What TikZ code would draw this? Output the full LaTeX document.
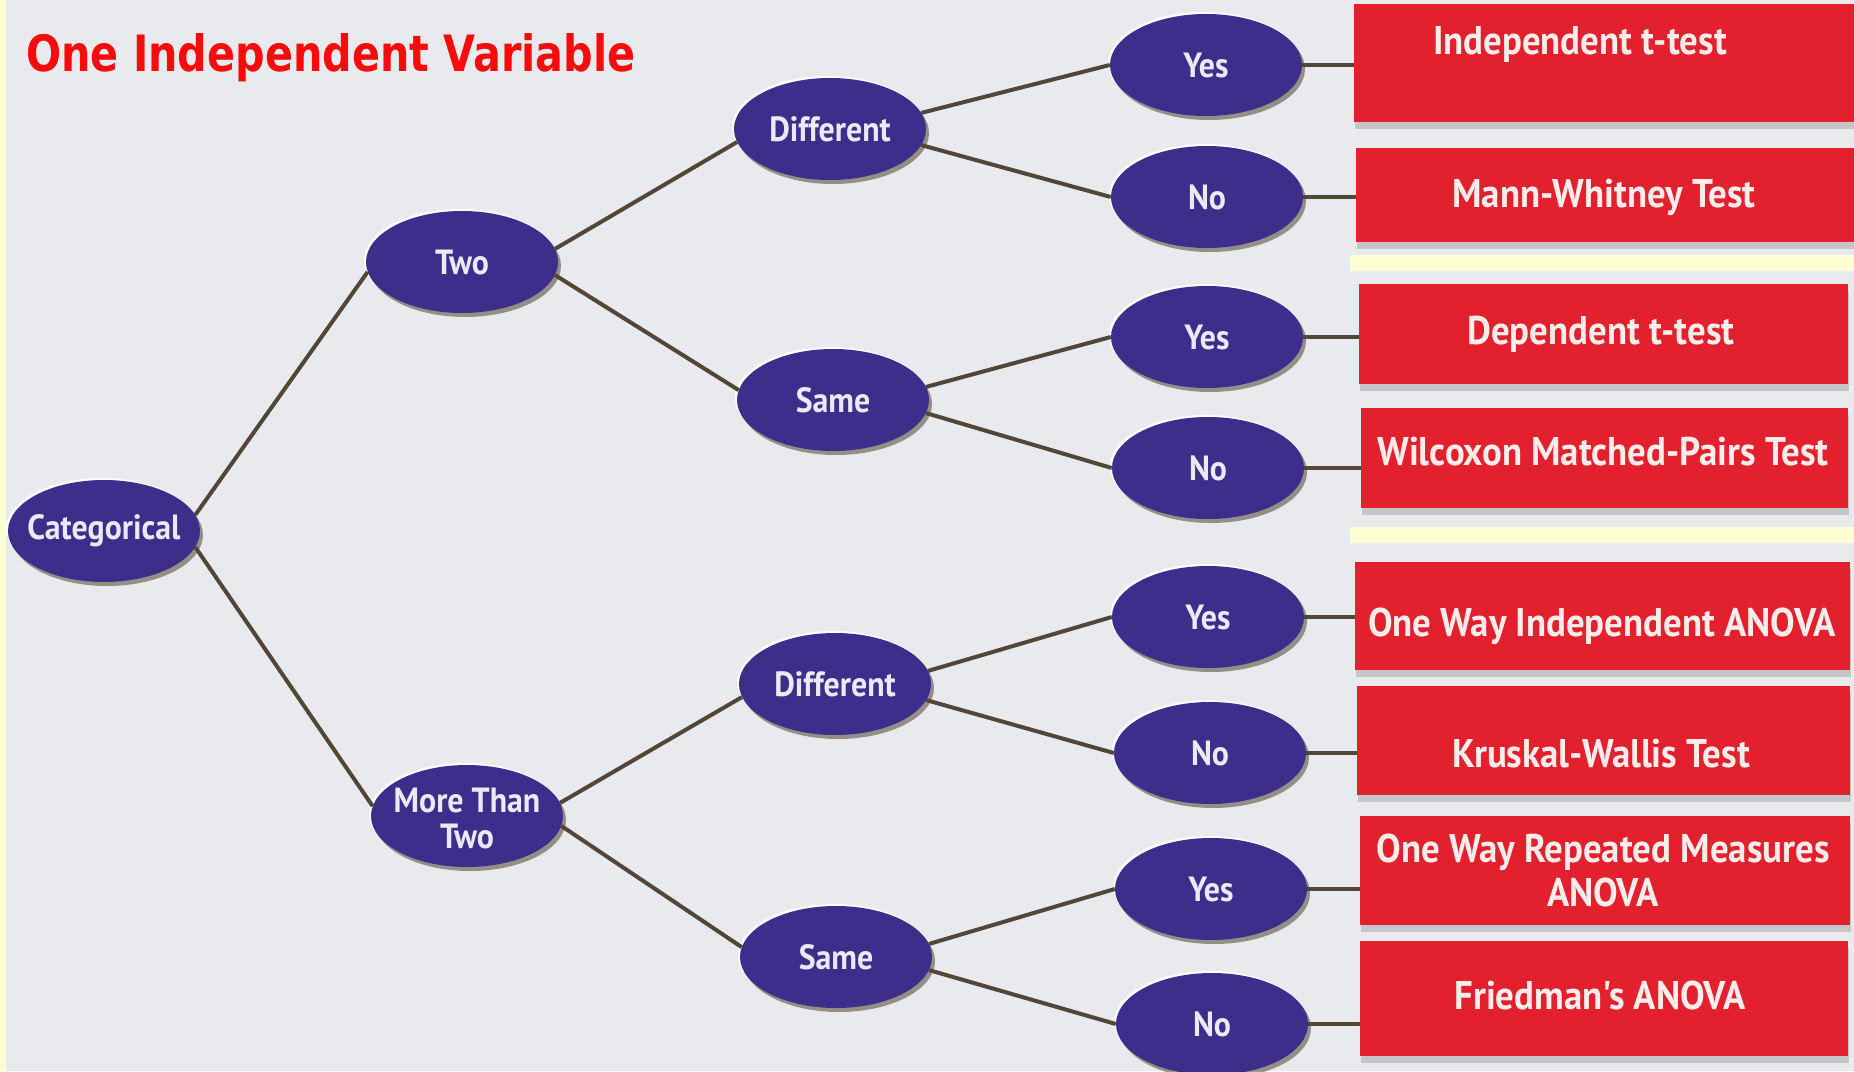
\documentclass[tikz,border=0pt]{standalone}
\usepackage{fontspec}
\usepackage{graphicx}
\usetikzlibrary{shapes.geometric,shadows}
\newfontfamily\nodefont[FakeStretch=0.91]{PT Sans}
\newfontfamily\boxfont[FakeStretch=0.92]{PT Sans}
\newfontfamily\titlefont{DejaVu Sans}
\newcommand{\ctext}[1]{\makebox[0pt][c]{#1}}
\definecolor{bg}{RGB}{232,234,238}
\definecolor{ellfill}{RGB}{62,46,140}
\definecolor{elltext}{RGB}{236,232,244}
\definecolor{boxred}{RGB}{226,32,46}
\definecolor{boxtext}{RGB}{252,236,234}
\definecolor{linec}{RGB}{82,70,56}
\definecolor{paleyellow}{RGB}{255,255,214}
\definecolor{titlered}{RGB}{250,10,10}
\definecolor{shadowc}{RGB}{80,70,50}
\tikzset{
  ell/.style={ellipse, fill=ellfill, text=elltext, minimum width=192pt, minimum height=102pt,
    inner sep=0pt, font=\nodefont\bfseries\fontsize{35}{36}\selectfont,
    general shadow={shadow xshift=-2pt, shadow yshift=2pt, fill=white, opacity=0.9},
    drop shadow={shadow xshift=3pt, shadow yshift=-4pt, fill=shadowc, opacity=0.55}},
  redbox/.style={rectangle, fill=boxred, inner sep=0pt,
    drop shadow={shadow xshift=1pt, shadow yshift=-7pt, fill=black!55, opacity=0.3}},
  boxtxt/.style={text=boxtext, inner sep=0pt, align=center,
    font=\boxfont\bfseries\fontsize{40}{44}\selectfont},
  conn/.style={draw=linec, line width=4pt}
}
\begin{document}
\begin{tikzpicture}[x=1pt,y=-1pt]
\fill[bg] (0,0) rectangle (1854,1071);
\useasboundingbox (0,0) rectangle (1854,1071);
\fill[paleyellow] (0,0) rectangle (6,1071);
\fill[paleyellow] (1350,255) rectangle (1854,271);
\fill[paleyellow] (1350,527) rectangle (1854,543);

\node[anchor=base west, inner sep=0pt, text=titlered] (title) at (26,71)
  {\resizebox{609pt}{38pt}{\titlefont\bfseries One Independent Variable}};

% result boxes
\node[redbox, minimum width=500pt, minimum height=118pt] (b1) at (1604,63) {};
\node[redbox, minimum width=498pt, minimum height=94pt]  (b2) at (1605,195) {};
\node[redbox, minimum width=489pt, minimum height=100pt] (b3) at (1603.5,334) {};
\node[redbox, minimum width=487pt, minimum height=100pt] (b4) at (1604.5,458) {};
\node[redbox, minimum width=495pt, minimum height=108pt] (b5) at (1602.5,616) {};
\node[redbox, minimum width=493pt, minimum height=109pt] (b6) at (1603.5,740.5) {};
\node[redbox, minimum width=490pt, minimum height=109pt] (b7) at (1605,870.5) {};
\node[redbox, minimum width=488pt, minimum height=115pt] (b8) at (1604,998.5) {};

\node[boxtxt, anchor=base] (t1) at (1580,54) {Independent t-test};
\node[boxtxt, anchor=base] (t2) at (1604,207) {Mann-Whitney Test};
\node[boxtxt, anchor=base] (t3) at (1601,344) {Dependent t-test};
\node[boxtxt, anchor=base] (t4) at (1603,465) {Wilcoxon Matched-Pairs Test};
\node[boxtxt, anchor=base] (t5) at (1602,636) {One Way Independent ANOVA};
\node[boxtxt, anchor=base] (t6) at (1601,767) {Kruskal-Wallis Test};
\node[boxtxt] (t7) at (1603,870) {One Way Repeated Measures\\ANOVA};
\node[boxtxt, anchor=base] (t8) at (1600,1009) {Friedman's ANOVA};

% decision ellipses
\node[ell] (cat)   at (104,531) {\ctext{Categorical}};
\node[ell] (two)   at (462,262) {\ctext{Two}};
\node[ell] (mtt)   at (467,816) {\ctext{\raisebox{-7pt}[\height][\depth]{\begin{tabular}{@{}c@{}}More Than\\Two\end{tabular}}}};
\node[ell] (dif1)  at (830,129) {\ctext{Different}};
\node[ell] (same1) at (833,400) {\ctext{Same}};
\node[ell] (dif2)  at (835,684) {\ctext{Different}};
\node[ell] (same2) at (836,957) {\ctext{Same}};
\node[ell] (y1) at (1206,65)  {\ctext{Yes}};
\node[ell] (n1) at (1207,197) {\ctext{No}};
\node[ell] (y2) at (1207,337) {\ctext{Yes}};
\node[ell] (n2) at (1208,468) {\ctext{No}};
\node[ell] (y3) at (1208,617) {\ctext{Yes}};
\node[ell] (n3) at (1210,753) {\ctext{No}};
\node[ell] (y4) at (1211,889) {\ctext{Yes}};
\node[ell] (n4) at (1212,1024) {\ctext{No}};

% connectors
\draw[conn] (cat.10) -- (two.186);
\draw[conn] (cat.-10) -- (mtt.174);
\draw[conn] (two.8) -- (dif1.188);
\draw[conn] (two.-8) -- (same1.174);
\draw[conn] (mtt.8) -- (dif2.188);
\draw[conn] (mtt.-6) -- (same2.174);
\draw[conn] (dif1.10) -- (y1.west);
\draw[conn] (dif1.-10) -- (n1.west);
\draw[conn] (same1.8) -- (y2.west);
\draw[conn] (same1.-8) -- (n2.west);
\draw[conn] (dif2.8) -- (y3.west);
\draw[conn] (dif2.-10) -- (n3.west);
\draw[conn] (same2.8) -- (y4.west);
\draw[conn] (same2.-8) -- (n4.west);
\draw[conn] (y1.east) -- (y1.east -| b1.west);
\draw[conn] (n1.east) -- (n1.east -| b2.west);
\draw[conn] (y2.east) -- (y2.east -| b3.west);
\draw[conn] (n2.east) -- (n2.east -| b4.west);
\draw[conn] (y3.east) -- (y3.east -| b5.west);
\draw[conn] (n3.east) -- (n3.east -| b6.west);
\draw[conn] (y4.east) -- (y4.east -| b7.west);
\draw[conn] (n4.east) -- (n4.east -| b8.west);
\end{tikzpicture}
\end{document}
